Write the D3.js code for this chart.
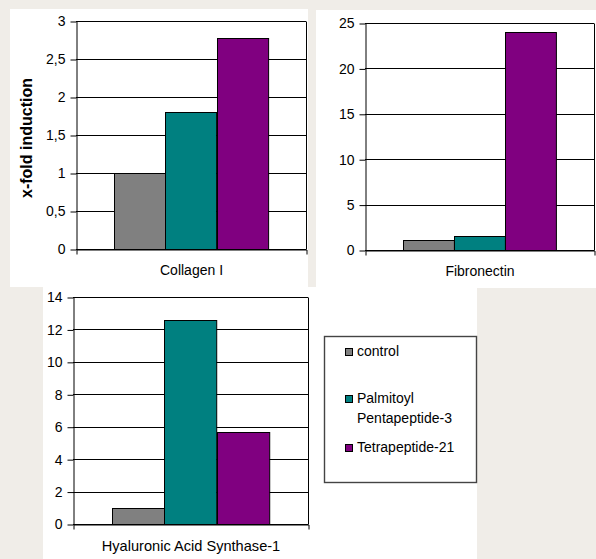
<!DOCTYPE html>
<html>
<head>
<meta charset="utf-8">
<script src="https://cdnjs.cloudflare.com/ajax/libs/d3/7.8.5/d3.min.js"></script>
<style>
  html, body { margin: 0; padding: 0; background: #f0ede8; }
  svg { display: block; font-family: "Liberation Sans", Arial, sans-serif; }
</style>
</head>
<body>
<svg id="chart" width="596" height="559"></svg>
<script>
// ---- data ----
const categories = ["Collagen I", "Fibronectin", "Hyaluronic Acid Synthase-1"];
const seriesNames = ["control", "Palmitoyl Pentapeptide-3", "Tetrapeptide-21"];
const controlValues = [1, 1.1, 1];
const palmitoylValues = [1.8, 1.5, 12.6];
const tetrapeptideValues = [2.78, 24, 5.7];
const yMaxima = [3, 25, 14];
const yTickSteps = [0.5, 5, 2];
const legendLines = [["control"], ["Palmitoyl", "Pentapeptide-3"], ["Tetrapeptide-21"]];
const yAxisTitle = "x-fold induction";

const seriesColors = ["#808080", "#008080", "#800080"];
const valuesBySeries = [controlValues, palmitoylValues, tetrapeptideValues];

const svg = d3.select("#chart");
const commaLocale = d3.formatLocale({ decimal: ",", thousands: ".", grouping: [3], currency: ["", ""] });
const fmt = commaLocale.format("~g");

// white sheets behind each chart
const sheets = [
  { x: 10, y: 9, w: 298, h: 278 },
  { x: 316, y: 10, w: 280, h: 278 },
  { x: 43, y: 287, w: 434, h: 272 }
];
svg.selectAll("rect.sheet").data(sheets).join("rect")
  .attr("class", "sheet")
  .attr("x", d => d.x).attr("y", d => d.y)
  .attr("width", d => d.w).attr("height", d => d.h)
  .attr("fill", "#ffffff");

// plot areas for the three panels
const plots = [
  { x0: 76, x1: 306, y0: 21, y1: 249, labelSize: 14 },
  { x0: 365, x1: 594, y0: 23, y1: 250, labelSize: 14 },
  { x0: 73, x1: 308, y0: 297, y1: 524, labelSize: 14.6 }
];

categories.forEach((cat, i) => {
  const p = plots[i];
  const g = svg.append("g");

  const y = d3.scaleLinear().domain([0, yMaxima[i]]).range([p.y1, p.y0]);
  const x = d3.scaleBand().domain([cat]).range([p.x0, p.x1]).paddingInner(0).paddingOuter(0.25);
  const xs = d3.scaleBand().domain(seriesNames).range([0, x.bandwidth()]);
  const tickVals = d3.range(0, yMaxima[i] + yTickSteps[i] / 2, yTickSteps[i]);

  // horizontal gridlines
  g.selectAll("line.grid").data(tickVals).join("line")
    .attr("x1", p.x0).attr("x2", p.x1)
    .attr("y1", d => Math.round(y(d)) + 0.5).attr("y2", d => Math.round(y(d)) + 0.5)
    .attr("stroke", "#000").attr("stroke-width", 1);

  // right border of plot area
  g.append("line")
    .attr("x1", p.x1 + 0.5).attr("x2", p.x1 + 0.5)
    .attr("y1", Math.round(p.y0) + 0.5).attr("y2", Math.round(p.y1) + 0.5)
    .attr("stroke", "#000");

  // bars
  const rows = seriesNames.map((s, k) => ({ s, k, v: valuesBySeries[k][i] }));
  g.selectAll("rect.bar").data(rows).join("rect")
    .attr("class", "bar")
    .attr("x", d => Math.round(x(cat) + xs(d.s)) + 0.5)
    .attr("y", d => Math.round(y(d.v)) + 0.5)
    .attr("width", xs.bandwidth())
    .attr("height", d => Math.round(y(0)) - Math.round(y(d.v)))
    .attr("fill", d => seriesColors[d.k])
    .attr("stroke", "#000").attr("stroke-width", 1);

  // y axis
  const yAxis = d3.axisLeft(y).tickValues(tickVals).tickSize(6).tickSizeOuter(0).tickPadding(5)
    .tickFormat(d => fmt(d));
  const ya = g.append("g").attr("transform", `translate(${p.x0 + 0.5},0.5)`).call(yAxis);
  ya.selectAll("text").attr("font-size", 14).attr("fill", "#000")
    .style("font-family", '"Liberation Sans", Arial, sans-serif');
  ya.selectAll("line, path").attr("stroke", "#000");

  // x axis with boundary ticks
  const xAxis = d3.axisBottom(x).tickSize(0).tickSizeOuter(5).tickPadding(16);
  const xa = g.append("g").attr("transform", `translate(0.5,${Math.round(y(0)) + 0.5})`).call(xAxis);
  xa.selectAll("path").attr("stroke", "#000");
  xa.selectAll("text").attr("font-size", p.labelSize).attr("fill", "#000")
    .style("font-family", '"Liberation Sans", Arial, sans-serif');
});

// y axis title
svg.append("text")
  .attr("transform", "translate(32,138) rotate(-90)")
  .attr("text-anchor", "middle")
  .attr("font-size", 16).attr("font-weight", "bold")
  .text(yAxisTitle);

// legend
const legend = svg.append("g");
legend.append("rect")
  .attr("x", 324.5).attr("y", 336.5).attr("width", 152).attr("height", 146)
  .attr("fill", "none").attr("stroke", "#444").attr("stroke-width", 1.4);
const legendRowsY = [352, 399, 448];
legendLines.forEach((lines, k) => {
  legend.append("rect")
    .attr("x", 345.5).attr("y", legendRowsY[k] - 3.5).attr("width", 7).attr("height", 7)
    .attr("fill", seriesColors[k]).attr("stroke", "#000");
  lines.forEach((t, j) => {
    legend.append("text")
      .attr("x", 357).attr("y", legendRowsY[k] + 4 + j * 20)
      .attr("font-size", 14).attr("fill", "#000")
      .text(t);
  });
});
</script>
</body>
</html>
